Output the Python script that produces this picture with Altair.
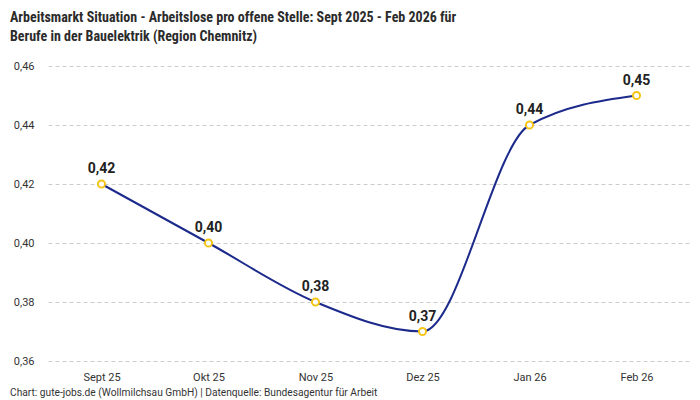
import pandas as pd
import altair as alt

# Daten
monate = ["Sept 25", "Okt 25", "Nov 25", "Dez 25", "Jan 26", "Feb 26"]
werte = [0.42, 0.40, 0.38, 0.37, 0.44, 0.45]
y_ticks = [0.36, 0.38, 0.40, 0.42, 0.44, 0.46]

titel = [
    "Arbeitsmarkt Situation - Arbeitslose pro offene Stelle: Sept 2025 - Feb 2026 für",
    "Berufe in der Bauelektrik (Region Chemnitz)",
]
quelle = "Chart: gute-jobs.de (Wollmilchsau GmbH) | Datenquelle: Bundesagentur für Arbeit"

df = pd.DataFrame({"Monat": monate, "Wert": werte})

W, H = 642, 295
font = "Roboto"

x = alt.X(
    "Monat:N",
    sort=monate,
    scale=alt.Scale(type="point", padding=0.5),
    axis=alt.Axis(title=None, labelAngle=0, domain=False, ticks=False,
                  labelPadding=10, labelFontSize=11, labelColor="#333",
                  labelFont=font, grid=False),
)
y = alt.Y(
    "Wert:Q",
    scale=alt.Scale(domain=[0.36, 0.46], nice=False, zero=False),
    axis=alt.Axis(title=None, values=y_ticks, domain=False, ticks=False,
                  labelPadding=14, labelFontSize=11, labelColor="#333",
                  labelFont=font, gridDash=[4, 3], gridColor="#cccccc",
                  labelExpr="replace(format(datum.value, '.2f'), '.', ',')"),
)

base = alt.Chart(df).encode(x=x, y=y)

linie = base.mark_line(interpolate="monotone", color="#1c2a8c", strokeWidth=2)
punkte = base.mark_point(filled=False, fill="white", stroke="#f5c518",
                         strokeWidth=2, size=50, opacity=1)
labels = base.transform_calculate(
    txt="replace(format(datum.Wert, '.2f'), '.', ',')"
).mark_text(dy=-15, fontSize=14, fontWeight="bold", color="#222", font=font).encode(
    text="txt:N"
)

fuss = alt.Chart(pd.DataFrame({"t": [quelle]})).mark_text(
    align="left", baseline="middle", fontSize=10.2, color="#333", font=font
).encode(x=alt.value(-38), y=alt.value(327), text="t:N")

chart = (
    alt.layer(linie, punkte, labels, fuss)
    .properties(
        width=W,
        height=H,
        autosize=alt.AutoSizeParams(type="none"),
        padding={"left": 40, "top": 58, "right": 2, "bottom": 38},
        title=alt.TitleParams(
            titel,
            anchor="start",
            frame="bounds",
            fontSize=14,
            fontWeight="bold",
            font="Roboto Condensed, Liberation Sans Narrow, Roboto",
            color="#2b2b2b",
            lineHeight=19,
            offset=16,
        ),
    )
    .configure_view(stroke=None)
)

chart.save("out.html", embed_options={"renderer": "svg", "actions": False})
